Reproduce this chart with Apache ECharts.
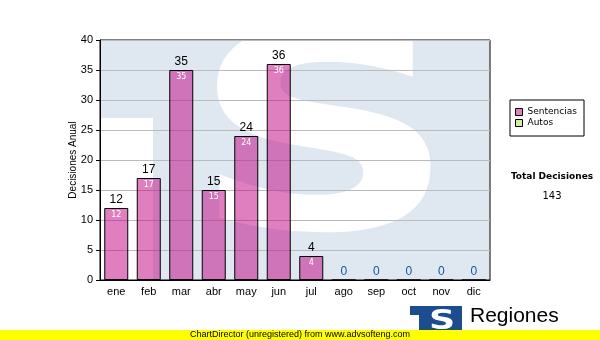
<!DOCTYPE html>
<html>
<head>
<meta charset="utf-8">
<script src="https://cdn.jsdelivr.net/npm/echarts@6/dist/echarts.min.js"></script>
<style>html,body{margin:0;padding:0;background:#fff}#c{width:600px;height:340px}</style>
</head>
<body>
<div id="c"></div>
<script>
var months = ['ene','feb','mar','abr','may','jun','jul','ago','sep','oct','nov','dic'];
var sentencias = [12,17,35,15,24,36,4,0,0,0,0,0];
var autos = [0,0,0,0,0,0,0,0,0,0,0,0];
var yTicks = {min:0, max:40, interval:5};
var total = sentencias.reduce(function(a,b){return a+b;},0) + autos.reduce(function(a,b){return a+b;},0);

var chart = echarts.init(document.getElementById('c'), null, {renderer:'canvas'});
var BG = '#dfe8f1';
var option = {
  animation:false,
  backgroundColor:'#fff',
  grid:{left:100, top:40, right:110, bottom:60, show:true, borderColor:'#000', borderWidth:1, backgroundColor:'transparent'},
  legend:{
    data:['Sentencias','Autos'], orient:'vertical', left:515, top:107,
    itemWidth:7, itemHeight:7, itemGap:1, icon:'rect', padding:0,
    itemStyle:{borderColor:'#000', borderWidth:1},
    textStyle:{fontFamily:'DejaVu Sans', fontSize:9, color:'#000', lineHeight:10}
  },
  xAxis:{
    type:'category', data:months,
    axisLine:{lineStyle:{color:'#000', width:1}},
    axisTick:{alignWithLabel:true, length:4, lineStyle:{color:'#000'}},
    axisLabel:{fontFamily:'Liberation Sans', fontSize:11, color:'#000', margin:6},
    splitLine:{show:false}
  },
  yAxis:{
    type:'value', min:yTicks.min, max:yTicks.max, interval:yTicks.interval,
    name:'Decisiones Anual', nameLocation:'middle', nameGap:22, nameRotate:90,
    nameMoveOverlap:false,
    nameTextStyle:{fontFamily:'Liberation Sans', fontSize:10, color:'#000'},
    axisLine:{show:true, lineStyle:{color:'#000', width:1}},
    axisTick:{show:true, length:4, lineStyle:{color:'#000'}},
    axisLabel:{fontFamily:'Liberation Sans', fontSize:11, color:'#000', margin:7},
    splitLine:{show:true, lineStyle:{color:'#bbbbbb', width:1}}
  },
  series:[
    {
      name:'Sentencias', type:'bar', stack:'t', data:sentencias, barWidth:24,
      itemStyle:{color:'rgba(192,0,128,0.5)', borderColor:'#000', borderWidth:1},
      label:{show:true, position:'top', distance:2,
        formatter:function(p){ return p.value === 0 ? '{z|0}' : '{a|' + p.value + '}'; },
        rich:{
          a:{fontFamily:'Liberation Sans', fontSize:12, color:'#000'},
          z:{fontFamily:'Liberation Sans', fontSize:12, color:'#1a55a0'}
        }
      }
    },
    {
      name:'Autos', type:'bar', stack:'t', data:autos, barWidth:24,
      itemStyle:{color:'#d4eca0', borderColor:'#000', borderWidth:0}
    },
    {
      name:'inner', type:'bar', data:sentencias, barWidth:24, barGap:'-100%',
      itemStyle:{color:'rgba(0,0,0,0)', borderWidth:0},
      label:{show:true, position:'insideTop', distance:3, color:'#fff',
        fontFamily:'DejaVu Sans', fontSize:8,
        formatter:function(p){ return p.value === 0 ? '' : String(p.value); }
      },
      z:3, silent:true
    }
  ],
  graphic:[
    {type:'rect', z:-1, shape:{x:100, y:40, width:390, height:240}, style:{fill:BG}},
    {type:'rect', z:-1, shape:{x:100, y:118, width:53, height:162}, style:{fill:'#fff'}},
    {type:'text', z:-1, x:324, y:157, scaleX:1.35, scaleY:1,
      style:{text:'S', font:'bold 275px "DejaVu Sans"', fill:'#fff', align:'center', verticalAlign:'middle'}},
    {type:'rect', z:1, shape:{x:510, y:100, width:74, height:36}, style:{fill:'none', stroke:'#000', lineWidth:1}},
    {type:'text', z:1, x:552, y:177, style:{text:'Total Decisiones', font:'bold 9px "DejaVu Sans"', fill:'#000', align:'center', verticalAlign:'middle'}},
    {type:'text', z:1, x:552, y:196, style:{text:String(total), font:'10px "DejaVu Sans"', fill:'#000', align:'center', verticalAlign:'middle'}},
    {type:'rect', z:1, shape:{x:410, y:306, width:52, height:30}, style:{fill:'#1c4d8c'}},
    {type:'rect', z:1, shape:{x:410, y:315, width:9, height:21}, style:{fill:'#fff'}},
    {type:'text', z:1, x:442, y:322, scaleX:1.4, style:{text:'S', font:'bold 26px "DejaVu Sans"', fill:'#fff', align:'center', verticalAlign:'middle'}},
    {type:'text', z:1, x:470, y:316, style:{text:'Regiones', font:'21px "Liberation Sans"', fill:'#000', align:'left', verticalAlign:'middle'}},
    {type:'rect', z:2, shape:{x:0, y:330, width:600, height:10}, style:{fill:'#ffff00'}},
    {type:'text', z:3, x:300, y:335, style:{text:'ChartDirector (unregistered) from www.advsofteng.com', font:'9px "Liberation Sans"', fill:'#000', align:'center', verticalAlign:'middle'}}
  ]
};
chart.setOption(option);
</script>
</body>
</html>
